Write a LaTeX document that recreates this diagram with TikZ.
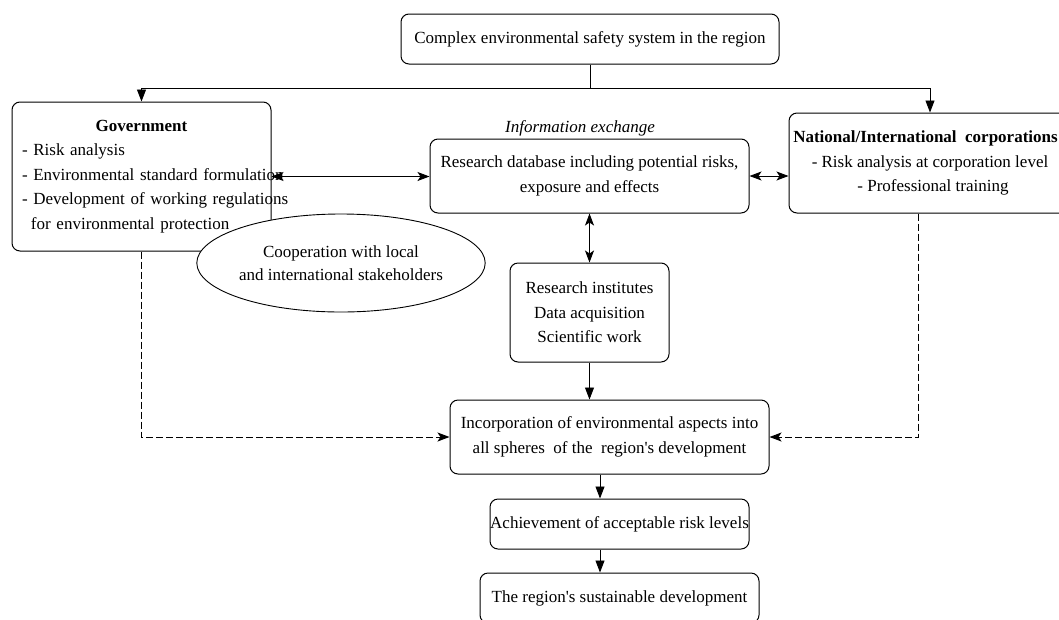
\documentclass[tikz,border=0pt]{standalone}
\usepackage{fontspec}
\setmainfont{Liberation Serif}
\usetikzlibrary{arrows.meta,shapes.geometric}

\tikzset{
    blk/.style={draw, rounded corners=8pt, line width=1pt, align=center, inner sep=0pt,
        font=\fontsize{17}{24.5}\selectfont},
    coopell/.style={draw, ellipse, fill=white, line width=0.9pt, align=center, inner sep=0pt,
        font=\fontsize{17}{23}\selectfont},
    down/.style={-{Triangle[length=12pt,width=9pt]}, line width=0.9pt},
    both/.style={{Stealth[length=12pt,width=9pt,inset=3pt]}-{Stealth[length=12pt,width=9pt,inset=3pt]}, line width=0.9pt},
    dashline/.style={-{Stealth[length=12pt,width=9pt,inset=3pt]}, line width=1pt, dash pattern=on 7pt off 3pt}
}

\begin{document}
\begin{tikzpicture}[x=1pt,y=-1pt]
    \useasboundingbox (0,0) rectangle (1059,619);

    \node[blk, minimum width=378pt, minimum height=50pt] (top) at (590,39) {Complex environmental safety system in the region};
    \node[blk, minimum width=259pt, minimum height=149pt, text width=239pt, align=left] (gov) at (141.5,176.5)
        {\hfill\textbf{Government}\hfill\null\\ \mbox{- Risk analysis}\\ \mbox{- Environmental standard formulation}\\
         \mbox{- Development of working regulations}\\ \mbox{\hspace*{9pt}for environmental protection}};
    \node[blk, minimum width=319pt, minimum height=74pt] (resdb) at (589.5,176) {Research database including potential risks,\\ exposure and effects};
    \node[font=\fontsize{17}{20}\selectfont\itshape, anchor=south, inner sep=1pt] (infoex) at (580,137) {Information exchange};
    \node[blk, minimum width=282pt, minimum height=100pt] (natl) at (930,163)
        {\textbf{National/International\ \ corporations}\hspace*{9pt}\\ - Risk analysis at corporation level\\ \hspace*{6pt}- Professional training};
    \node[coopell, minimum width=258pt, minimum height=98pt] (coop) at (341,263) {Cooperation with local\\ and international stakeholders};
    \node[blk, minimum width=159pt, minimum height=99pt] (inst) at (589.5,312.5) {Research institutes\\ Data acquisition\\ Scientific work};
    \node[blk, minimum width=319pt, minimum height=74pt] (incorp) at (609.5,437)
        {Incorporation of environmental aspects into\\ all spheres\ \ of the\ \ region\textquotesingle s development};
    \node[blk, minimum width=259pt, minimum height=50pt] (accept) at (619.5,524) {Achievement of acceptable risk levels};
    \node[blk, minimum width=279pt, minimum height=50pt] (sustain) at (619.5,598) {The region\textquotesingle s sustainable development};

    % top splits to both sides
    \coordinate (split) at (590,88);
    \draw[line width=0.9pt] (top) -- (split);
    \draw[down] (split) -| (gov);
    \draw[down] (split) -| (natl);

    % exchange with the database
    \draw[both] (gov.east) -- (resdb.west |- gov.east);
    \draw[both] (resdb.east) -- (natl.west |- resdb.east);
    \draw[both] (resdb) -- (inst);

    \draw[down] (inst.south) -- (inst.south |- incorp.north);
    \draw[down] ([xshift=-9.5pt]incorp.south) -- ([xshift=-19.5pt]accept.north);
    \draw[down] ([xshift=-19.5pt]accept.south) -- ([xshift=-19.5pt]sustain.north);

    \draw[dashline] (gov.south) |- (incorp.west);
    \draw[dashline] ([xshift=-12pt]natl.south) |- (incorp.east);
\end{tikzpicture}
\end{document}
